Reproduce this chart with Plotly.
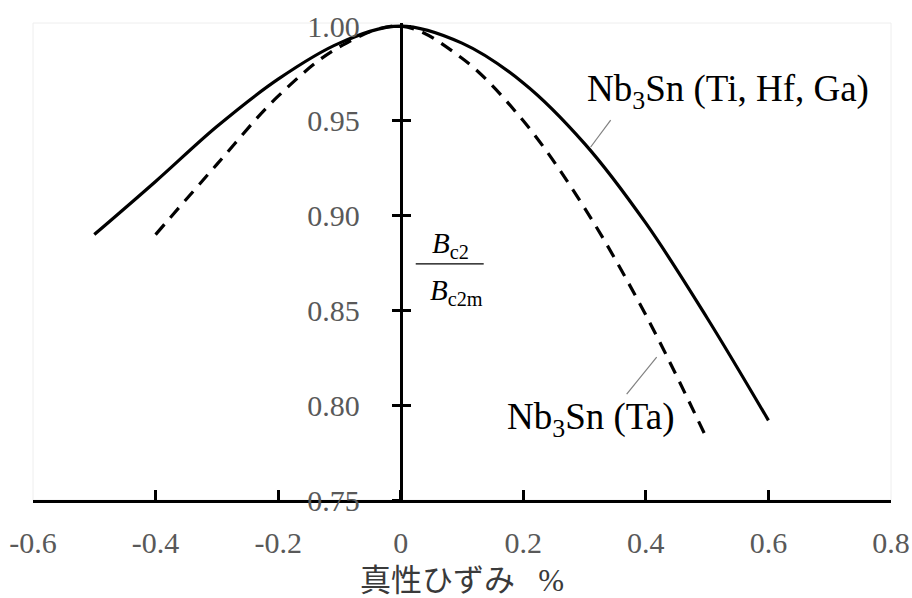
import plotly.graph_objects as go

# True strain (%) and normalised upper critical field Bc2/Bc2m
strain_tihfga = [-0.5, -0.4, -0.3, -0.2, -0.1, 0.0, 0.1, 0.2, 0.3, 0.4, 0.5, 0.6]
bc2_tihfga = [0.890, 0.918, 0.947, 0.972, 0.991, 1.000, 0.991, 0.970, 0.938, 0.896, 0.846, 0.792]

strain_ta = [-0.4, -0.3, -0.2, -0.1, 0.0, 0.1, 0.2, 0.3, 0.4, 0.5]
bc2_ta = [0.890, 0.927, 0.963, 0.989, 1.000, 0.983, 0.950, 0.904, 0.8475, 0.782]

x_ticks = [-0.6, -0.4, -0.2, 0.0, 0.2, 0.4, 0.6, 0.8]
x_tick_labels = ["-0.6", "-0.4", "-0.2", "0", "0.2", "0.4", "0.6", "0.8"]
y_ticks = [0.75, 0.80, 0.85, 0.90, 0.95, 1.00]

X_RANGE = [-0.6, 0.8]
Y_RANGE = [0.75, 1.0016]

SERIF = "Liberation Serif"
TICK_GREY = "#595959"

fig = go.Figure()

fig.add_trace(go.Scatter(
    x=strain_tihfga, y=bc2_tihfga, mode="lines",
    line=dict(color="black", width=3.2, shape="spline", smoothing=1.0),
    showlegend=False, hoverinfo="skip",
))
fig.add_trace(go.Scatter(
    x=strain_ta, y=bc2_ta, mode="lines", yaxis="y2",
    line=dict(color="black", width=3.2, dash="13px,9px", shape="spline", smoothing=1.0),
    showlegend=False, hoverinfo="skip",
))

y_pos = (0 - X_RANGE[0]) / (X_RANGE[1] - X_RANGE[0])

fig.update_layout(
    width=912, height=598,
    margin=dict(l=33, r=21, t=23, b=98),
    paper_bgcolor="white", plot_bgcolor="white",
    xaxis=dict(
        range=X_RANGE, tickvals=x_ticks, ticktext=x_tick_labels,
        showgrid=False, zeroline=False, automargin=False,
        showline=True, linecolor="black", linewidth=3,
        ticks="inside", ticklen=10, tickwidth=3, tickcolor="black",
        tickfont=dict(family=SERIF, size=30, color=TICK_GREY),
        ticklabelstandoff=14,
        title=dict(text="真性ひずみ\u00a0\u00a0\u00a0%",
                   font=dict(family="Liberation Serif, Noto Sans CJK JP", size=31, color="#3a3a3a"),
                   standoff=28),
    ),
    yaxis=dict(
        range=Y_RANGE, tickvals=y_ticks, tickformat=".2f",
        anchor="free", position=y_pos, automargin=False,
        showgrid=False, zeroline=False,
        showline=True, linecolor="black", linewidth=3,
        ticks="outside", ticklen=8, tickwidth=3, tickcolor="black",
        tickfont=dict(family=SERIF, size=30, color=TICK_GREY),
        ticklabelstandoff=26,
    ),
    yaxis2=dict(
        range=Y_RANGE, tickvals=y_ticks, overlaying="y",
        anchor="free", position=y_pos, automargin=False,
        showgrid=False, zeroline=False, showline=False,
        ticks="inside", ticklen=9, tickwidth=3, tickcolor="black",
        showticklabels=False,
    ),
)

# faint chart frame
fig.add_shape(type="rect", xref="paper", yref="paper", x0=0, y0=0, x1=1, y1=1,
              line=dict(color="#eeeeee", width=1), layer="below")

# series labels with leader lines
fig.add_annotation(x=0.3002, y=0.9657, text="Nb<sub>3</sub>Sn (Ti, Hf, Ga)",
                   xanchor="left", yanchor="middle", showarrow=False,
                   font=dict(family=SERIF, size=37, color="black"))
fig.add_shape(type="line", x0=0.3426, y0=0.9504, x1=0.3100, y1=0.9362,
              line=dict(color="#808080", width=1.2))

fig.add_annotation(x=0.1697, y=0.7927, text="Nb<sub>3</sub>Sn (Ta)",
                   xanchor="left", yanchor="middle", showarrow=False,
                   font=dict(family=SERIF, size=37, color="black"))
fig.add_shape(type="line", x0=0.3687, y0=0.8059, x1=0.4177, y1=0.8254,
              line=dict(color="#808080", width=1.2))

# axis quantity as a fraction Bc2 / Bc2m
fig.add_annotation(x=0.082, y=0.8845, text="<i>B</i><sub>c2</sub>",
                   xanchor="center", yanchor="middle", showarrow=False,
                   font=dict(family=SERIF, size=29, color="black"))
fig.add_shape(type="line", x0=0.0245, y0=0.8745, x1=0.1354, y1=0.8745,
              line=dict(color="black", width=1.2))
fig.add_annotation(x=0.0914, y=0.8597, text="<i>B</i><sub>c2m</sub>",
                   xanchor="center", yanchor="middle", showarrow=False,
                   font=dict(family=SERIF, size=29, color="black"))

fig.write_html("out.html")
